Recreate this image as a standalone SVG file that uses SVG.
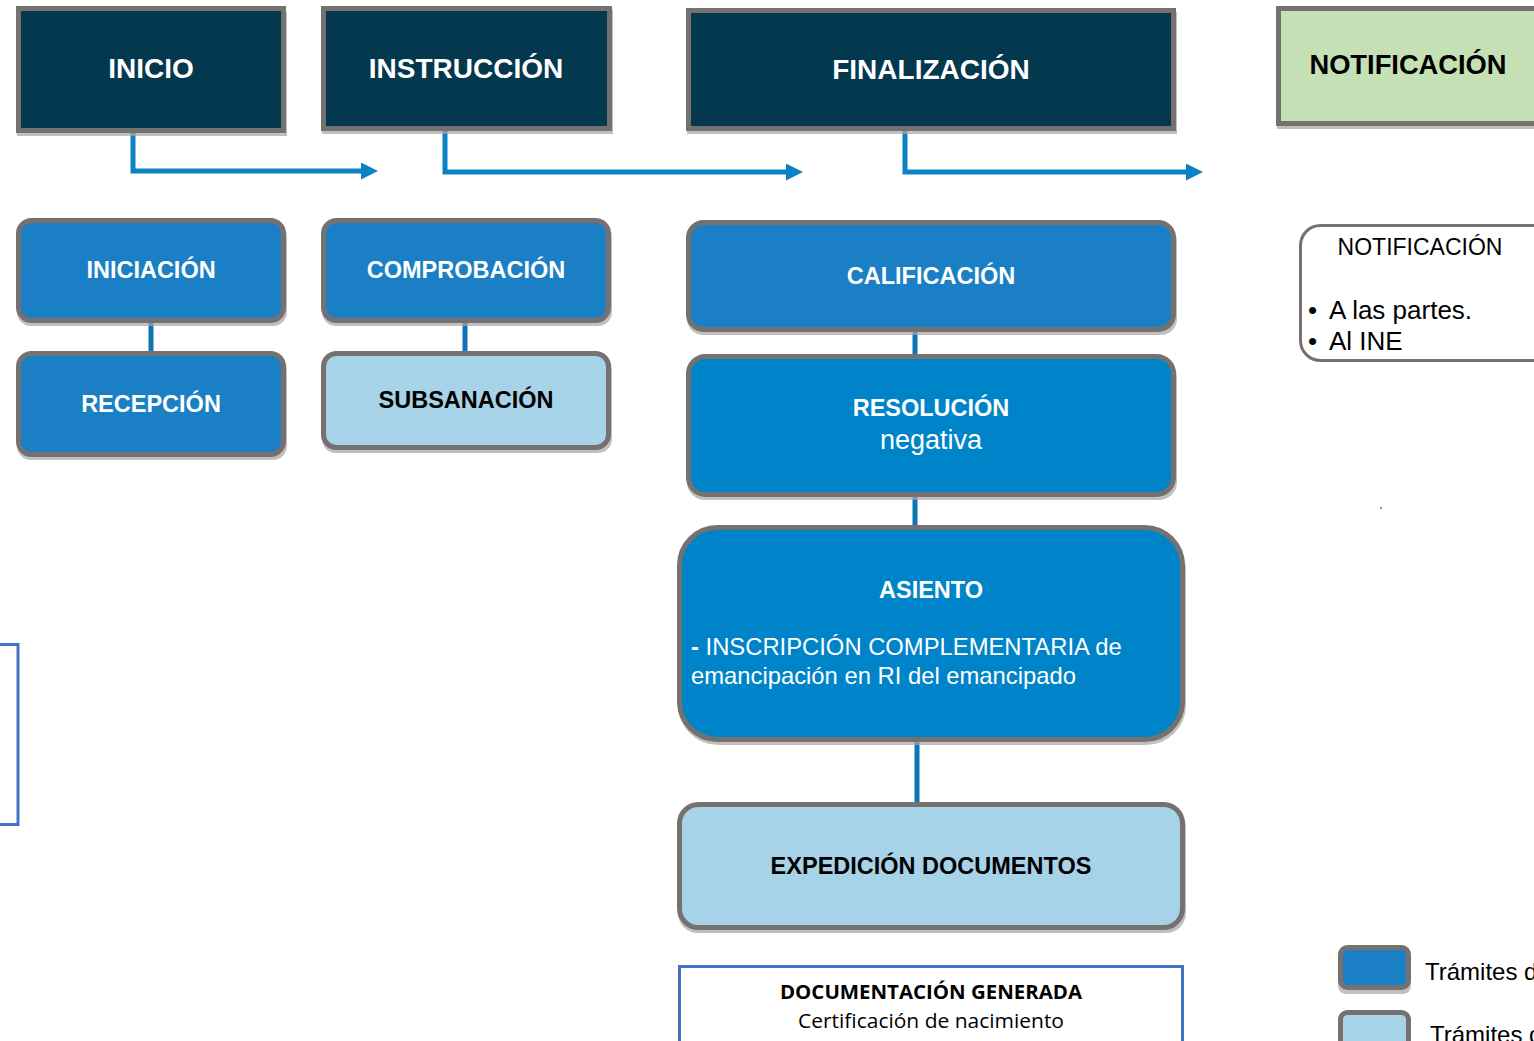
<svg xmlns="http://www.w3.org/2000/svg" width="1534" height="1041" viewBox="0 0 1534 1041">
<defs>
<style>
.hdr{fill:#03384F;stroke:#767171;stroke-width:5}
.sh{fill:#A5A5A5;opacity:0.7}
.mid{fill:#1B7FC6;stroke:#767171;stroke-width:5}
.dark{fill:#0084C9;stroke:#767171;stroke-width:5}
.lite{fill:#A6D3E8;stroke:#767171;stroke-width:5}
.t{font-family:"Liberation Sans",Arial,sans-serif;text-anchor:middle}
.b{font-weight:bold}
.w{fill:#FFFFFF}
.k{fill:#000000}
.conn{stroke:#0E75B5;stroke-width:5;fill:none}
.arr{stroke:#0A83C6;stroke-width:5;fill:none}
.doc{fill:#FFFFFF;stroke:#4472C4;stroke-width:3}
.p{font-family:"Liberation Sans",Arial,sans-serif;fill:#000000}
</style>
<marker id="ah" markerWidth="17" markerHeight="17" refX="0" refY="8.5" orient="auto" markerUnits="userSpaceOnUse" viewBox="0 0 17 17">
<path d="M0,0 L17,8.5 L0,17 z" fill="#0A83C6"/>
</marker>
</defs>
<rect width="1534" height="1041" fill="#FFFFFF"/>

<g id="connectors">
<path class="arr" d="M133,133 V171 H361" marker-end="url(#ah)"/>
<path class="arr" d="M445,131 V172 H786" marker-end="url(#ah)"/>
<path class="arr" d="M905,131 V172 H1186" marker-end="url(#ah)"/>
<line class="conn" x1="151" y1="322" x2="151" y2="352"/>
<line class="conn" x1="465" y1="322" x2="465" y2="352"/>
<line class="conn" x1="915" y1="331" x2="915" y2="356"/>
<line class="conn" x1="915" y1="496" x2="915" y2="527"/>
<line class="conn" x1="917" y1="741" x2="917" y2="804"/>
</g>

<g id="inicio">
<rect class="sh" x="17" y="12" width="270" height="124"/>
<rect class="hdr" x="18.5" y="8.5" width="265" height="122"/>
<text class="t b w" x="151" y="78" font-size="28">INICIO</text>
</g>
<g id="instruccion">
<rect class="sh" x="322" y="10" width="291" height="124"/>
<rect class="hdr" x="323.5" y="8.5" width="286" height="120"/>
<text class="t b w" x="466" y="78" font-size="28">INSTRUCCIÓN</text>
</g>
<g id="finalizacion">
<rect class="sh" x="687" y="12" width="490" height="122"/>
<rect class="hdr" x="688.5" y="10.5" width="485" height="118"/>
<text class="t b w" x="931" y="79" font-size="28">FINALIZACIÓN</text>
</g>
<g id="notificacion-hdr">
<rect class="sh" x="1277" y="10" width="270" height="119"/>
<rect fill="#C5E0B4" stroke="#767171" stroke-width="5" x="1278.5" y="8.5" width="270" height="115"/>
<text class="t b k" x="1408" y="74" font-size="27.3">NOTIFICACIÓN</text>
</g>

<g id="iniciacion">
<rect class="sh" x="17" y="223" width="270" height="103" rx="14"/>
<rect class="mid" x="18.5" y="220.5" width="265" height="100" rx="13"/>
<text class="t b w" x="151" y="278" font-size="23.5">INICIACIÓN</text>
</g>
<g id="recepcion">
<rect class="sh" x="17" y="356" width="270" height="104" rx="14"/>
<rect class="mid" x="18.5" y="353.5" width="265" height="101" rx="13"/>
<text class="t b w" x="151" y="412" font-size="23.5">RECEPCIÓN</text>
</g>
<g id="comprobacion">
<rect class="sh" x="322" y="223" width="290" height="103" rx="14"/>
<rect class="mid" x="323.5" y="220.5" width="285" height="100" rx="13"/>
<text class="t b w" x="466" y="278" font-size="23.5">COMPROBACIÓN</text>
</g>
<g id="subsanacion">
<rect class="sh" x="322" y="356" width="290" height="97" rx="14"/>
<rect class="lite" x="323.5" y="353.5" width="285" height="94" rx="13"/>
<text class="t b k" x="466" y="408" font-size="23.5">SUBSANACIÓN</text>
</g>

<g id="calificacion">
<rect class="sh" x="687" y="225" width="490" height="110" rx="16"/>
<rect class="mid" x="688.5" y="222.5" width="485" height="107" rx="15"/>
<text class="t b w" x="931" y="284" font-size="23.5">CALIFICACIÓN</text>
</g>
<g id="resolucion">
<rect class="sh" x="687" y="359" width="490" height="141" rx="18"/>
<rect class="dark" x="688.5" y="356.5" width="485" height="138" rx="17"/>
<text class="t b w" x="931" y="416" font-size="23.5">RESOLUCIÓN</text>
<text class="t w" x="931" y="449" font-size="27">negativa</text>
</g>
<g id="asiento">
<rect class="sh" x="678" y="530" width="508" height="215" rx="40"/>
<rect class="dark" x="679.5" y="527.5" width="503" height="212" rx="38"/>
<text class="t b w" x="931" y="598" font-size="23.5">ASIENTO</text>
<text font-family="Liberation Sans, Arial, sans-serif" font-size="23.8" fill="#FFFFFF" x="691" y="655"><tspan font-weight="bold">-</tspan> INSCRIPCIÓN COMPLEMENTARIA de</text>
<text font-family="Liberation Sans, Arial, sans-serif" font-size="23.8" fill="#FFFFFF" x="691" y="684">emancipación en RI del emancipado</text>
</g>
<g id="expedicion">
<rect class="sh" x="678" y="807" width="508" height="126" rx="20"/>
<rect class="lite" x="679.5" y="804.5" width="503" height="123" rx="19"/>
<text class="t b k" x="931" y="874" font-size="23.5">EXPEDICIÓN DOCUMENTOS</text>
</g>

<g id="documentacion">
<rect class="doc" x="679.5" y="966.5" width="503" height="90"/>
<text class="t b k" x="931" y="999" font-size="20" textLength="302" lengthAdjust="spacingAndGlyphs" style="font-family:'Open Sans','Liberation Sans',sans-serif">DOCUMENTACIÓN GENERADA</text>
<text class="t k" x="931" y="1028" font-size="20" textLength="266" lengthAdjust="spacingAndGlyphs" style="font-family:'Open Sans','Liberation Sans',sans-serif">Certificación de nacimiento</text>
</g>

<g id="left-box">
<rect class="doc" x="-20" y="644.5" width="38" height="180"/>
</g>

<g id="notificacion-detalle">
<rect fill="#FFFFFF" stroke="#767171" stroke-width="3" x="1300.5" y="225.5" width="260" height="135" rx="20"/>
<text class="t k" x="1420" y="255" font-size="23">NOTIFICACIÓN</text>
<text class="p" font-size="26" x="1308" y="319">•<tspan x="1329">A las partes.</tspan></text>
<text class="p" font-size="26" x="1308" y="350">•<tspan x="1329">Al INE</tspan></text>
</g>

<circle cx="1381" cy="508" r="1" fill="#4472C4"/>

<g id="leyenda">
<rect class="sh" x="1338" y="948" width="73" height="46" rx="8"/>
<rect class="mid" x="1340.5" y="947.5" width="68" height="40" rx="7"/>
<text class="p" font-size="24" x="1425" y="980">Trámites d</text>
<rect class="sh" x="1338" y="1013" width="73" height="40" rx="8"/>
<rect class="lite" x="1340.5" y="1012.5" width="68" height="40" rx="7"/>
<text class="p" font-size="24" x="1430" y="1043">Trámites d</text>
</g>
</svg>
